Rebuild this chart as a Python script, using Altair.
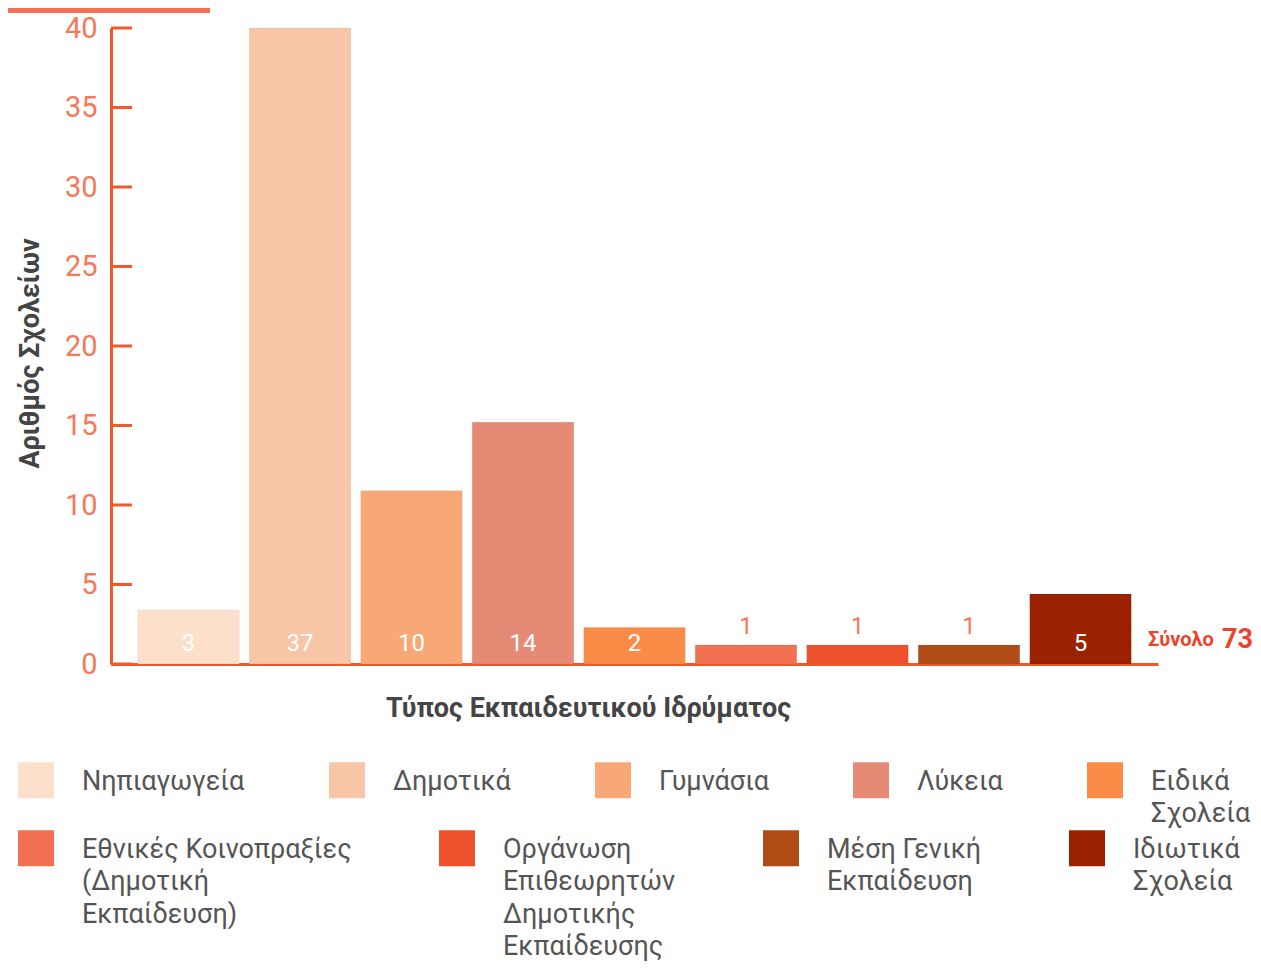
import altair as alt
import pandas as pd

# ---- data ----
legend_lines = [
    ["Νηπιαγωγεία"],
    ["Δημοτικά"],
    ["Γυμνάσια"],
    ["Λύκεια"],
    ["Ειδικά", "Σχολεία"],
    ["Εθνικές Κοινοπραξίες", "(Δημοτική", "Εκπαίδευση)"],
    ["Οργάνωση", "Επιθεωρητών", "Δημοτικής", "Εκπαίδευσης"],
    ["Μέση Γενική", "Εκπαίδευση"],
    ["Ιδιωτικά", "Σχολεία"],
]
bar_heights = [3.4, 40, 10.9, 15.2, 2.3, 1.2, 1.2, 1.2, 4.4]
value_labels = ["3", "37", "10", "14", "2", "1", "1", "1", "5"]
colors = ["#fde0cc", "#f8c5a6", "#f8a877", "#e58a74", "#fb8c47",
          "#f27152", "#ee522c", "#b04d16", "#9b2200"]
y_ticks = [0, 5, 10, 15, 20, 25, 30, 35, 40]
total_words = ["Σύνολο", "73"]
row_sizes = [5, 4]   # legend items per legend row

ORANGE = "#f05a2b"
LABEL_ORANGE = "#f4785a"
GREY = "#444444"
FONT = "Roboto"
# square swatch, raised so its centre sits on the first label line
SWATCH = "M-1,-1.53H1V0.47H-1Z"

# category keys: label lines joined by "|", padded so every item of a legend
# row has the same number of lines (keeps the row's entries top-aligned)
groups = [legend_lines[:row_sizes[0]], legend_lines[row_sizes[0]:]]
cat_keys = []
for g in groups:
    n = max(len(l) for l in g)
    for l in g:
        cat_keys.append("|".join(l + [""] * (n - len(l))))

df = pd.DataFrame({"cat": cat_keys, "h": bar_heights, "lab": value_labels})
ticks_df = pd.DataFrame({"t": y_ticks})

x_scale = alt.Scale(domain=cat_keys, paddingInner=0.09, paddingOuter=0.24)
x_enc = alt.X("cat:N", scale=x_scale,
              axis=alt.Axis(labels=False, ticks=False, domainColor=ORANGE,
                            domainWidth=3, title="Τύπος Εκπαιδευτικού Ιδρύματος",
                            titleFont=FONT, titleFontSize=27, titleFontWeight="bold",
                            titleColor=GREY, titleX=477, titleY=44,
                            titleAlign="center", titleBaseline="middle"))
y_scale = alt.Scale(domain=[0, 40], nice=False)
y_enc = alt.Y("h:Q", scale=y_scale,
              axis=alt.Axis(values=y_ticks, ticks=False, grid=False, domainColor=ORANGE,
                            domainWidth=3, labelColor=LABEL_ORANGE, labelFont=FONT,
                            labelFontSize=29, labelPadding=14,
                            title="Αριθμός Σχολείων", titleFont=FONT, titleFontSize=27,
                            titleFontWeight="bold", titleColor=GREY, titleX=-81,
                            titleY=325, titleAlign="center", titleBaseline="middle",
                            titleAngle=270))


def make_legend(lx, ly, n, colpad):
    return alt.Legend(orient="none", legendX=lx, legendY=ly,
                      direction="horizontal", columns=n,
                      symbolType=SWATCH, symbolSize=1296, symbolStrokeWidth=0,
                      symbolOpacity=1,
                      labelFont=FONT, labelFontSize=27,
                      labelColor="#555555", labelOffset=28,
                      labelLimit=1000, columnPadding=colpad, padding=0,
                      labelBaseline="alphabetic",
                      labelExpr="split(datum.label, '|')",
                      title=None)


k = row_sizes[0]
bars_a = alt.Chart(df).transform_filter(
    alt.FieldOneOfPredicate(field="cat", oneOf=cat_keys[:k])
).mark_bar(stroke="#000000", strokeOpacity=0.06, strokeWidth=1).encode(
    x=x_enc, y=y_enc,
    color=alt.Color("cat:N", scale=alt.Scale(domain=cat_keys[:k], range=colors[:k]),
                    legend=make_legend(-93, 743.6, row_sizes[0], 84)),
)
bars_b = alt.Chart(df).transform_filter(
    alt.FieldOneOfPredicate(field="cat", oneOf=cat_keys[k:])
).mark_bar(stroke="#000000", strokeOpacity=0.06, strokeWidth=1).encode(
    x=x_enc, y=y_enc,
    color=alt.Color("cat:N", scale=alt.Scale(domain=cat_keys[k:], range=colors[k:]),
                    legend=make_legend(-93, 811.6, row_sizes[1], 87)),
)

inside = alt.Chart(df).transform_filter("datum.h >= 2").transform_calculate(
    base="0").mark_text(color="white", font=FONT, fontSize=24, baseline="middle",
                        dy=-20).encode(
    x=alt.X("cat:N", scale=x_scale),
    y=alt.Y("base:Q", scale=y_scale),
    text="lab:N",
)

above = alt.Chart(df).transform_filter("datum.h < 2").mark_text(
    color=LABEL_ORANGE, font=FONT, fontSize=24, baseline="middle", dy=-18).encode(
    x=alt.X("cat:N", scale=x_scale),
    y=alt.Y("h:Q", scale=y_scale),
    text="lab:N",
)

tick_rules = alt.Chart(ticks_df).mark_rule(color=ORANGE, strokeWidth=3).encode(
    y=alt.Y("t:Q", scale=y_scale),
    x=alt.value(0),
    x2=alt.value(21),
)

total1 = alt.Chart(pd.DataFrame({"w": [total_words[0]]})).mark_text(
    color="#e8452c", font=FONT, fontSize=20, fontWeight="bold", align="left",
    baseline="middle").encode(x=alt.value(1037), y=alt.value(612), text="w:N")
total2 = alt.Chart(pd.DataFrame({"w": [total_words[1]]})).mark_text(
    color="#e8452c", font=FONT, fontSize=27, fontWeight="bold", align="left",
    baseline="middle").encode(x=alt.value(1111), y=alt.value(612), text="w:N")

topbar = alt.Chart(pd.DataFrame({"a": [0]})).mark_rule(color="#f27152", strokeWidth=5).encode(
    x=alt.value(-103), x2=alt.value(99), y=alt.value(-17.5))

chart = alt.layer(bars_a, bars_b, inside, above, tick_rules, total1, total2, topbar).resolve_scale(
    color="independent"
).properties(
    width=1047, height=636,
    autosize=alt.AutoSizeParams(type="none"),
    padding={"left": 103, "top": 20, "right": 95, "bottom": 300},
).configure(
    view={"stroke": None},
    style={"guide-label": {"lineHeight": 32.5}},
)

chart.save("out.html", embed_options={"renderer": "svg", "actions": False})
